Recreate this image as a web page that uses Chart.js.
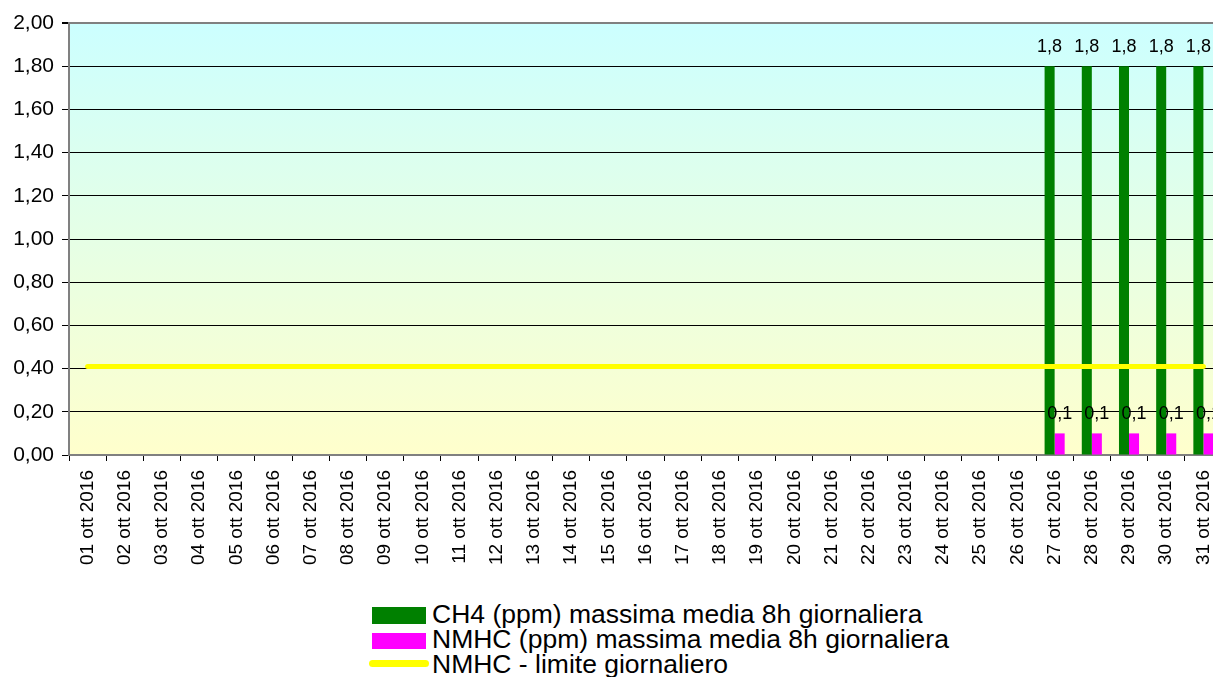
<!DOCTYPE html>
<html>
<head>
<meta charset="utf-8">
<script src="https://cdn.jsdelivr.net/npm/chart.js@4/dist/chart.umd.min.js"></script>
<style>
  html, body { margin: 0; padding: 0; background: #fff; overflow: hidden; width: 1213px; height: 677px; }
  #wrap { position: absolute; left: 0; top: 0; width: 1213px; height: 677px; overflow: hidden; }
  #c { position: absolute; left: 0; top: 0; width: 1222px; height: 580px; max-width: none; }
  .lg { position: absolute; font-family: "Liberation Sans", Arial, sans-serif; font-size: 26.5px; line-height: 26px; color: #000; white-space: nowrap; }
  .sw { position: absolute; }
</style>
</head>
<body>
<div id="wrap">
  <canvas id="c" width="1222" height="580"></canvas>
  <div class="sw" style="left:372px;top:607px;width:54px;height:17px;background:#008000"></div>
  <div class="lg" style="left:432px;top:601px">CH4 (ppm) massima media 8h giornaliera</div>
  <div class="sw" style="left:372px;top:633px;width:54px;height:16px;background:#FF00FF"></div>
  <div class="lg" style="left:432px;top:626px">NMHC (ppm) massima media 8h giornaliera</div>
  <div class="sw" style="left:369px;top:660px;width:60px;height:7px;background:#FFFF00;border-radius:4px"></div>
  <div class="lg" style="left:432px;top:651px">NMHC - limite giornaliero</div>
</div>
<script>
// ---- data ----
const categories = [
  "01 ott 2016","02 ott 2016","03 ott 2016","04 ott 2016","05 ott 2016","06 ott 2016","07 ott 2016",
  "08 ott 2016","09 ott 2016","10 ott 2016","11 ott 2016","12 ott 2016","13 ott 2016","14 ott 2016",
  "15 ott 2016","16 ott 2016","17 ott 2016","18 ott 2016","19 ott 2016","20 ott 2016","21 ott 2016",
  "22 ott 2016","23 ott 2016","24 ott 2016","25 ott 2016","26 ott 2016","27 ott 2016","28 ott 2016",
  "29 ott 2016","30 ott 2016","31 ott 2016"
];
const ch4Values = [
  null,null,null,null,null,null,null,null,null,null,null,null,null,null,null,
  null,null,null,null,null,null,null,null,null,null,null,1.8,1.8,1.8,1.8,1.8
];
const nmhcValues = [
  null,null,null,null,null,null,null,null,null,null,null,null,null,null,null,
  null,null,null,null,null,null,null,null,null,null,null,0.1,0.1,0.1,0.1,0.1
];
const nmhcLimit = [
  0.41,0.41,0.41,0.41,0.41,0.41,0.41,0.41,0.41,0.41,0.41,0.41,0.41,0.41,0.41,0.41,
  0.41,0.41,0.41,0.41,0.41,0.41,0.41,0.41,0.41,0.41,0.41,0.41,0.41,0.41,0.41
];
const seriesNames = [
  "CH4 (ppm) massima media 8h giornaliera",
  "NMHC (ppm) massima media 8h giornaliera",
  "NMHC - limite giornaliero"
];
const yMin = 0, yMax = 2, yStep = 0.2;

const FONT = '"Liberation Sans", Arial, sans-serif';

const bgPlugin = {
  id: 'bg',
  beforeDraw(chart) {
    const a = chart.chartArea, ctx = chart.ctx;
    const g = ctx.createLinearGradient(0, a.top, 0, a.bottom);
    g.addColorStop(0, '#CCFFFF');
    g.addColorStop(1, '#FFFFCC');
    ctx.save();
    ctx.fillStyle = g;
    ctx.fillRect(a.left, a.top, a.right - a.left, a.bottom - a.top);
    ctx.restore();
  }
};

const labelPlugin = {
  id: 'vlabels',
  afterDatasetsDraw(chart) {
    const ctx = chart.ctx;
    ctx.save();
    ctx.font = '18px ' + FONT;
    ctx.fillStyle = '#000';
    ctx.textAlign = 'center';
    ctx.textBaseline = 'alphabetic';
    [0, 1].forEach(di => {
      const meta = chart.getDatasetMeta(di);
      const data = chart.data.datasets[di].data;
      meta.data.forEach((el, i) => {
        const v = data[i];
        if (v === null || v === undefined) return;
        ctx.fillText(String(v).replace('.', ','), el.x, el.y - 14);
      });
    });
    ctx.restore();
  }
};

new Chart(document.getElementById('c'), {
  data: {
    labels: categories,
    datasets: [
      { type: 'bar', label: seriesNames[0], data: ch4Values, backgroundColor: '#008000', borderWidth: 0,
        categoryPercentage: 0.54, barPercentage: 1.0, order: 1 },
      { type: 'bar', label: seriesNames[1], data: nmhcValues, backgroundColor: '#FF00FF', borderWidth: 0,
        categoryPercentage: 0.54, barPercentage: 1.0, order: 1 },
      { type: 'line', label: seriesNames[2], data: nmhcLimit, borderColor: '#FFFF00', backgroundColor: '#FFFF00',
        borderWidth: 5, borderCapStyle: 'round', pointRadius: 0, pointHoverRadius: 0, fill: false, tension: 0, order: 0 }
    ]
  },
  options: {
    responsive: false,
    animation: false,
    devicePixelRatio: 1,
    layout: { padding: { top: 23, right: 0, left: 0, bottom: 0 } },
    plugins: { legend: { display: false }, tooltip: { enabled: false } },
    scales: {
      x: {
        offset: true,
        grid: { offset: true, drawOnChartArea: false, drawTicks: true, tickLength: 6, color: '#000', lineWidth: 1 },
        border: { display: true, color: '#808080', width: 2 },
        ticks: { minRotation: 90, maxRotation: 90, autoSkip: false, padding: 9, color: '#000',
                 font: { family: FONT, size: 19 } },
        afterFit(s) { s.height = 125; s.paddingLeft = 0; s.paddingRight = 0; }
      },
      y: {
        min: yMin, max: yMax,
        ticks: { stepSize: yStep, color: '#000', padding: 8, font: { family: FONT, size: 21 },
                 callback: v => Number(v).toFixed(2).replace('.', ',') },
        grid: { color: c => (c.tick && Math.abs(c.tick.value - yMax) < 1e-9) ? '#808080' : '#000',
                lineWidth: c => (c.tick && Math.abs(c.tick.value - yMax) < 1e-9) ? 2 : 1,
                tickColor: '#000', tickLength: 7, drawTicks: true },
        border: { display: true, color: '#808080', width: 2 },
        afterFit(s) { s.width = 69; s.paddingTop = 0; s.paddingBottom = 0; }
      }
    }
  },
  plugins: [bgPlugin, labelPlugin]
});
</script>
</body>
</html>
